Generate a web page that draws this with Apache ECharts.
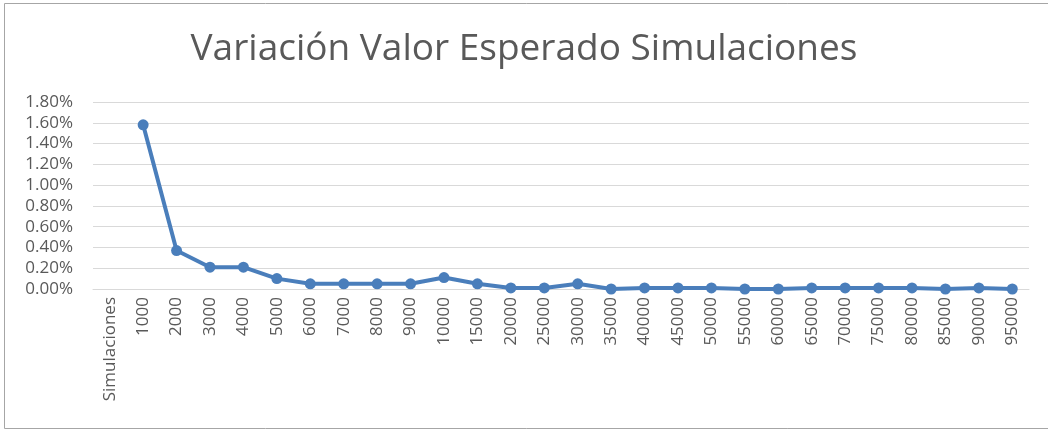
<!DOCTYPE html>
<html>
<head>
<meta charset="utf-8">
<script src="https://cdn.jsdelivr.net/npm/echarts@6/dist/echarts.min.js"></script>
<style>
html,body{margin:0;padding:0;background:#fff;}
#chart{width:1048px;height:432px;}
</style>
</head>
<body>
<div id="chart"></div>
<script>
const titleText = 'Variación Valor Esperado Simulaciones';
const categories = ['Simulaciones','1000','2000','3000','4000','5000','6000','7000','8000','9000','10000',
  '15000','20000','25000','30000','35000','40000','45000','50000','55000','60000','65000','70000',
  '75000','80000','85000','90000','95000'];
// values in percent
const values = [null,1.58,0.37,0.21,0.21,0.10,0.05,0.05,0.05,0.05,0.11,
  0.05,0.01,0.01,0.05,0.00,0.01,0.01,0.01,0.00,0.00,0.01,0.01,
  0.01,0.01,0.00,0.01,0.00];
const yMin = 0, yMax = 1.8, yStep = 0.2;

const chart = echarts.init(document.getElementById('chart'));
chart.setOption({
  animation: false,
  backgroundColor: '#ffffff',
  title: {
    text: titleText,
    left: 'center',
    top: 26,
    textStyle: {fontFamily: 'Open Sans', fontWeight: 'normal', fontSize: 37, color: '#595959'}
  },
  graphic: [
    {type: 'rect', shape: {x: 4.5, y: 3.5, width: 1060, height: 425}, silent: true,
     style: {fill: 'none', stroke: '#a6a6a6', lineWidth: 1}}
  ],
  grid: {left: 93, right: 19, top: 102, bottom: 143, containLabel: false},
  xAxis: {
    type: 'category',
    data: categories,
    boundaryGap: true,
    axisLine: {show: true, lineStyle: {color: '#d9d9d9', width: 1}},
    axisTick: {show: false},
    axisLabel: {rotate: 90, interval: 0, margin: 8, color: '#595959', fontFamily: 'Open Sans', fontSize: 17}
  },
  yAxis: {
    type: 'value',
    min: yMin, max: yMax, interval: yStep,
    axisLine: {show: false},
    axisTick: {show: false},
    splitLine: {lineStyle: {color: '#d9d9d9', width: 1}},
    axisLabel: {margin: 20, color: '#595959', fontFamily: 'Open Sans', fontSize: 17,
      formatter: v => v.toFixed(2) + '%'}
  },
  series: [{
    type: 'line',
    data: values,
    symbol: 'circle',
    symbolSize: 11,
    lineStyle: {color: '#4a7ebb', width: 4},
    itemStyle: {color: '#4a7ebb'},
    connectNulls: false
  }]
});
</script>
</body>
</html>
